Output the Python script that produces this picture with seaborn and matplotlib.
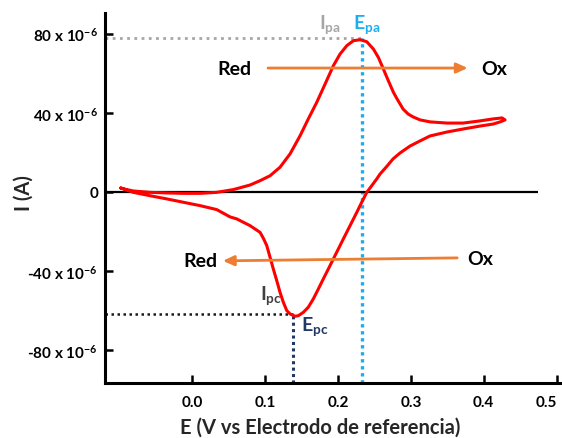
import numpy as np
import pandas as pd
import matplotlib
matplotlib.use("Agg")
import matplotlib.pyplot as plt
import seaborn as sns

# ---- data ----
E_V = [-0.0981, -0.0899, -0.0808, -0.0579, -0.0350, -0.0122, 0.0107, 0.0336, 0.0564, 0.0793,
       0.0931, 0.1068, 0.1205, 0.1342, 0.1480, 0.1593, 0.1709, 0.1823, 0.1937, 0.2029,
       0.2121, 0.2211, 0.2303, 0.2395, 0.2486, 0.2554, 0.2623, 0.2691, 0.2760, 0.2811,
       0.2893, 0.2962, 0.3031, 0.3127, 0.3264, 0.3497, 0.3717, 0.3950, 0.4128, 0.4252,
       0.4293,
       0.4225, 0.4128, 0.3950, 0.3717, 0.3497, 0.3264, 0.3127, 0.2989, 0.2852, 0.2756,
       0.2674, 0.2578, 0.2532, 0.2464, 0.2395, 0.2326, 0.2258, 0.2166, 0.2074, 0.2005,
       0.1937, 0.1868, 0.1799, 0.1731, 0.1662, 0.1593, 0.1525, 0.1456, 0.1411, 0.1342,
       0.1297, 0.1250, 0.1205, 0.1160, 0.1113, 0.1068, 0.1023, 0.0976, 0.0931, 0.0862,
       0.0793, 0.0701, 0.0611, 0.0519, 0.0336, 0.0107, -0.0122, -0.0350, -0.0579, -0.0808,
       -0.0981]
I_uA = [2.0, 1.2, 0.5, -0.2, -0.5, -0.7, -0.7, -0.2, 1.2, 3.5,
        5.7, 8.2, 12.5, 19.2, 28.4, 36.9, 45.3, 54.5, 63.8, 69.7,
        73.9, 76.4, 76.9, 75.9, 72.2, 68.0, 62.1, 56.2, 50.4, 47.0,
        41.9, 39.4, 37.9, 36.4, 35.4, 34.8, 34.8, 35.9, 36.9, 37.4,
        36.4,
        35.4, 34.3, 33.3, 31.8, 30.3, 28.3, 25.8, 23.2, 19.7, 16.7,
        13.1, 9.1, 6.6, 3.2, -0.2, -5.2, -10.3, -17.0, -23.7, -28.8,
        -33.8, -38.9, -43.9, -49.0, -54.0, -58.2, -60.8, -62.5, -62.8, -61.6,
        -59.9, -55.7, -50.7, -44.8, -38.9, -33.0, -27.1, -23.4, -20.4, -18.7,
        -17.0, -15.3, -13.6, -12.6, -8.9, -6.9, -5.2, -3.5, -1.9, -0.2,
        2.0]
scan_order = list(range(len(E_V)))

Epa, Ipa = 0.233, 77.8e-6
Epc, Ipc = 0.138, -61.4e-6

y_ticks = [-80e-6, -40e-6, 0, 40e-6, 80e-6]
y_tick_labels = ["-80 x 10$^{-6}$", "-40 x 10$^{-6}$", "0",
                 "40 x 10$^{-6}$", "80 x 10$^{-6}$"]
x_ticks = [0.0, 0.1, 0.2, 0.3, 0.4, 0.5]
x_tick_labels = ["0.0", "0.1", "0.2", "0.3", "0.4", "0.5"]

zero_line_end = 0.475
arrow_ox = dict(x0=0.104, x1=0.378, y0=62.6e-6, y1=62.6e-6)
arrow_red = dict(x0=0.3636, x1=0.042, y0=-33.3e-6, y1=-34.8e-6)

xlim = (-0.1197, 0.5074)
ylim = (-96.5e-6, 90.4e-6)

# ---- style ----
sns.set_theme(style="ticks")
plt.rcParams["font.family"] = ["Lato", "DejaVu Sans"]
plt.rcParams["font.weight"] = "bold"
plt.rcParams["mathtext.fontset"] = "custom"
plt.rcParams["mathtext.rm"] = "Lato"
plt.rcParams["mathtext.bf"] = "Lato:bold"
plt.rcParams["mathtext.it"] = "Lato:bold"
plt.rcParams["mathtext.default"] = "bf"

fig = plt.figure(figsize=(5.62, 4.39), dpi=100)
ax = fig.add_axes([0.1868, 0.1253, 0.8132, 0.8428])

df = pd.DataFrame({"E": E_V, "I": np.array(I_uA) * 1e-6, "order": scan_order})

# reference lines
ax.hlines(0, xlim[0], zero_line_end, color="black", lw=1.6, zorder=2)
ax.hlines(Ipa, xlim[0], Epa, color="#a6a6a6", lw=2.0, linestyles=(0, (1, 1.6)), zorder=1)
ax.vlines(Epa, ylim[0], Ipa, color="#1aaef0", lw=2.4, linestyles=(0, (1, 1.1)), zorder=1)
ax.hlines(Ipc, xlim[0], Epc, color="#1a1a1a", lw=1.8, linestyles=(0, (1, 1.4)), zorder=1)
ax.vlines(Epc, ylim[0], Ipc, color="#1f3864", lw=2.2, linestyles=(0, (1, 1.1)), zorder=1)

sns.lineplot(data=df, x="E", y="I", sort=False, estimator=None, color="#ff0000",
             lw=2.2, ax=ax, zorder=3)

# arrows
orange = "#ed7d31"
for a in (arrow_ox, arrow_red):
    ax.annotate("", xy=(a["x1"], a["y1"]), xytext=(a["x0"], a["y0"]),
                arrowprops=dict(arrowstyle="-|>,head_length=0.55,head_width=0.25",
                                color=orange, lw=2.0, shrinkA=0, shrinkB=0), zorder=4)

tk = dict(fontsize=14, fontweight="bold", color="black", ha="center", va="center")
ax.text(0.058, 62.2e-6, "Red", **tk)
ax.text(0.414, 62.2e-6, "Ox", **tk)
ax.text(0.0107, -34.8e-6, "Red", **tk)
ax.text(0.395, -33.4e-6, "Ox", **tk)

ax.text(0.174, 79.5e-6, "I$_{pa}$", fontsize=14, color="#a6a6a6", ha="left", va="bottom")
ax.text(0.220, 79.5e-6, "E$_{pa}$", fontsize=14, color="#1aaef0", ha="left", va="bottom")
ax.text(0.093, -57.5e-6, "I$_{pc}$", fontsize=14, color="#404040", ha="left", va="bottom")
ax.text(0.149, -73.5e-6, "E$_{pc}$", fontsize=14, color="#1f3864", ha="left", va="bottom")

ax.set_xlim(*xlim)
ax.set_ylim(*ylim)
ax.set_xticks(x_ticks)
ax.set_xticklabels(x_tick_labels)
ax.set_yticks(y_ticks)
ax.set_yticklabels(y_tick_labels)
for lab in ax.get_xticklabels() + ax.get_yticklabels():
    lab.set_fontweight("bold")
ax.get_xticklabels()[-1].set_horizontalalignment("right")
ax.tick_params(axis="both", direction="in", length=6, width=1.8, colors="black")
ax.tick_params(axis="x", pad=9, labelsize=11)
ax.tick_params(axis="y", pad=5, labelsize=11)

for s in ("top", "right"):
    ax.spines[s].set_visible(False)
for s in ("left", "bottom"):
    ax.spines[s].set_linewidth(2.2)
    ax.spines[s].set_color("black")

ax.set_xlabel("E (V vs Electrodo de referencia)", fontsize=14.5, fontweight="bold")
ax.set_ylabel("I (A)", fontsize=14.5, fontweight="bold")
ax.xaxis.set_label_coords(0.47, -0.09)
ax.yaxis.set_label_coords(-0.155, 0.516)

fig.savefig("out.png", dpi=100)
